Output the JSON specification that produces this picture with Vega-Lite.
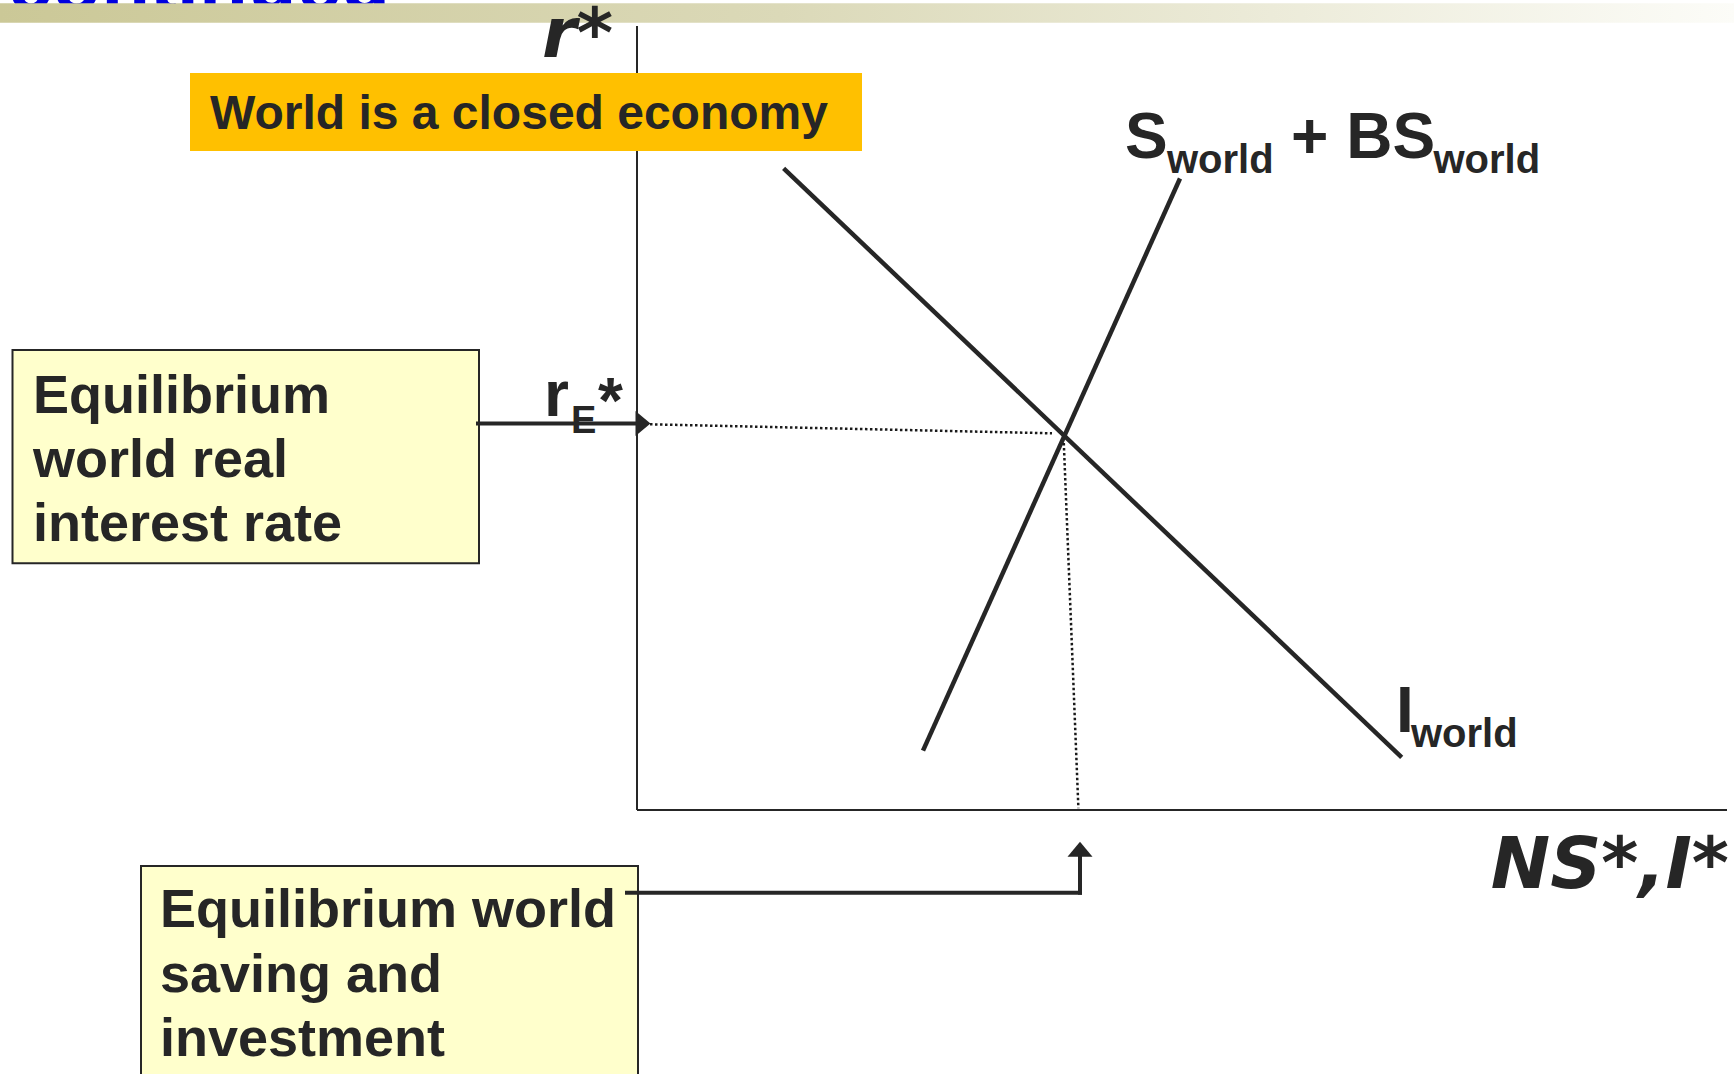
{
  "$schema": "https://vega.github.io/schema/vega-lite/v6.json",
  "width": 1734,
  "height": 1074,
  "autosize": {"type": "fit", "contains": "padding"},
  "padding": 0,
  "background": "white",
  "config": {"view": {"stroke": null}},
  "encoding": {
    "x": {"field": "x", "type": "quantitative", "scale": {"domain": [-637, 1097], "nice": false, "zero": false}, "axis": null},
    "y": {"field": "y", "type": "quantitative", "scale": {"domain": [-264, 810], "nice": false, "zero": false}, "axis": null}
  },
  "layer": [
    {
      "data": {"values": [{"x": -247, "y": 800, "text": "continued"}]},
      "mark": {"type": "text", "clip": true, "align": "right", "baseline": "alphabetic", "font": "Liberation Sans", "fontWeight": "bold", "fontSize": 80, "color": "#0000e0"},
      "encoding": {"text": {"field": "text"}}
    },
    {
      "data": {"values": [{"x": -637, "x2": 1097, "y": 806.7, "y2": 787.3}]},
      "mark": {"type": "rect", "clip": true, "color": {"gradient": "linear", "x1": 0, "y1": 0, "x2": 1, "y2": 0, "stops": [{"offset": 0, "color": "#cbc897"}, {"offset": 0.45, "color": "#dbd9b8"}, {"offset": 1, "color": "#fcfcf8"}]}},
      "encoding": {"x2": {"field": "x2"}, "y2": {"field": "y2"}}
    },
    {
      "data": {"values": [{"x": -95, "y": 753, "text": "r*"}]},
      "mark": {"type": "text", "clip": true, "align": "left", "baseline": "alphabetic", "font": "DejaVu Sans", "fontWeight": "bold", "fontStyle": "italic", "fontSize": 70, "color": "#262626"},
      "encoding": {"text": {"field": "text"}}
    },
    {
      "data": {"values": [{"x": 0, "y": 784, "x2": 0, "y2": 0}, {"x": 0, "y": 0, "x2": 1090, "y2": 0}]},
      "mark": {"type": "rule", "clip": true, "strokeWidth": 2, "color": "#262626"},
      "encoding": {"x2": {"field": "x2"}, "y2": {"field": "y2"}}
    },
    {
      "data": {"values": [{"x": -447, "x2": 225, "y": 737, "y2": 659}]},
      "mark": {"type": "rect", "clip": true, "color": "#ffc000"},
      "encoding": {"x2": {"field": "x2"}, "y2": {"field": "y2"}}
    },
    {
      "data": {"values": [{"x": -427, "y": 680.7, "text": "World is a closed economy"}]},
      "mark": {"type": "text", "clip": true, "align": "left", "baseline": "alphabetic", "font": "Liberation Sans", "fontWeight": "bold", "fontSize": 48, "color": "#262626"},
      "encoding": {"text": {"field": "text"}}
    },
    {
      "data": {"values": [{"x": -624.5, "x2": -158, "y": 460, "y2": 246.7}, {"x": -496, "x2": 1, "y": -56, "y2": -290}]},
      "mark": {"type": "rect", "clip": true, "fill": "#ffffcc", "stroke": "#262626", "strokeWidth": 2},
      "encoding": {"x2": {"field": "x2"}, "y2": {"field": "y2"}}
    },
    {
      "data": {"values": [
        {"x": -604, "y": 397.3, "text": "Equilibrium"},
        {"x": -604, "y": 333.3, "text": "world real"},
        {"x": -604, "y": 269.3, "text": "interest rate"},
        {"x": -477, "y": -117.3, "text": "Equilibrium world"},
        {"x": -477, "y": -181.7, "text": "saving and"},
        {"x": -477, "y": -246, "text": "investment"}
      ]},
      "mark": {"type": "text", "clip": true, "align": "left", "baseline": "alphabetic", "font": "Liberation Sans", "fontWeight": "bold", "fontSize": 54, "color": "#262626"},
      "encoding": {"text": {"field": "text"}}
    },
    {
      "data": {"values": [
        {"x": 146.6, "y": 641.7, "x2": 764.7, "y2": 52.7},
        {"x": 286, "y": 59.3, "x2": 543, "y2": 631.5}
      ]},
      "mark": {"type": "rule", "clip": true, "strokeWidth": 4.5, "color": "#262626"},
      "encoding": {"x2": {"field": "x2"}, "y2": {"field": "y2"}}
    },
    {
      "data": {"values": [
        {"x": 13, "y": 385.7, "x2": 415, "y2": 376.7},
        {"x": 426.8, "y": 367, "x2": 441.4, "y2": 1.7}
      ]},
      "mark": {"type": "rule", "clip": true, "strokeWidth": 2.5, "strokeDash": [2.5, 2.5], "color": "#1a1a1a"},
      "encoding": {"x2": {"field": "x2"}, "y2": {"field": "y2"}}
    },
    {
      "data": {"values": [
        {"x": -159, "y": 386.5, "x2": -2, "y2": 386.5},
        {"x": -10, "y": -82.7, "x2": 443, "y2": -82.7},
        {"x": 443, "y": -82.7, "x2": 443, "y2": -47}
      ]},
      "mark": {"type": "rule", "clip": true, "strokeWidth": 4, "strokeCap": "square", "color": "#262626"},
      "encoding": {"x2": {"field": "x2"}, "y2": {"field": "y2"}}
    },
    {
      "data": {"values": [{"x": 6, "y": 386.5}]},
      "mark": {"type": "point", "clip": true, "filled": true, "opacity": 1, "strokeWidth": 0, "size": 625, "shape": "M-0.6,-1L0.6,0L-0.6,1Z", "color": "#262626"}
    },
    {
      "data": {"values": [{"x": 443, "y": -39.2}]},
      "mark": {"type": "point", "clip": true, "filled": true, "opacity": 1, "strokeWidth": 0, "size": 625, "shape": "M0,-0.6L1,0.6L-1,0.6Z", "color": "#262626"}
    },
    {
      "data": {"values": [
        {"x": 488, "y": 651.7, "text": "S"},
        {"x": 654, "y": 651.7, "text": "+ BS"},
        {"x": 759, "y": 78.3, "text": "I"},
        {"x": -93, "y": 394, "text": "r"},
        {"x": -39, "y": 387.5, "text": "*"}
      ]},
      "mark": {"type": "text", "clip": true, "align": "left", "baseline": "alphabetic", "font": "Liberation Sans", "fontWeight": "bold", "fontSize": 64, "color": "#262626"},
      "encoding": {"text": {"field": "text"}}
    },
    {
      "data": {"values": [
        {"x": 530, "y": 637.3, "text": "world"},
        {"x": 796.5, "y": 637.3, "text": "world"},
        {"x": 774, "y": 62.7, "text": "world"}
      ]},
      "mark": {"type": "text", "clip": true, "align": "left", "baseline": "alphabetic", "font": "Liberation Sans", "fontWeight": "bold", "fontSize": 40, "color": "#262626"},
      "encoding": {"text": {"field": "text"}}
    },
    {
      "data": {"values": [{"x": -66, "y": 377, "text": "E"}]},
      "mark": {"type": "text", "clip": true, "align": "left", "baseline": "alphabetic", "font": "Liberation Sans", "fontWeight": "bold", "fontSize": 38, "color": "#262626"},
      "encoding": {"text": {"field": "text"}}
    },
    {
      "data": {"values": [{"x": 1092, "y": -78.3, "text": "NS*,I*"}]},
      "mark": {"type": "text", "clip": true, "align": "right", "baseline": "alphabetic", "font": "DejaVu Sans", "fontWeight": "bold", "fontStyle": "italic", "fontSize": 71, "color": "#262626"},
      "encoding": {"text": {"field": "text"}}
    }
  ]
}
